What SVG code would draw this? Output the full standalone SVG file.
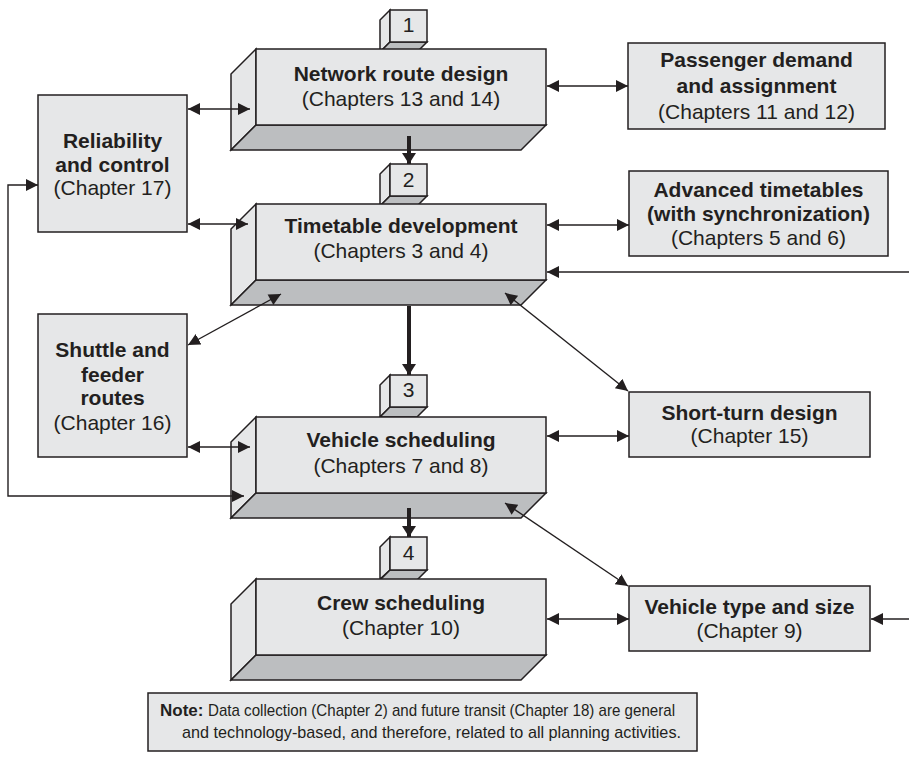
<svg xmlns="http://www.w3.org/2000/svg" width="909" height="759" viewBox="0 0 909 759">
  <style>
    .face { fill: #e6e7e8; stroke: #231f20; stroke-width: 1.5; stroke-linejoin: miter; }
    .shade { fill: #bcbec0; stroke: #231f20; stroke-width: 1.5; }
    .box { fill: #e6e7e8; stroke: #231f20; stroke-width: 1.5; }
    .t { font-family: "Liberation Sans", Arial, sans-serif; font-size: 21px; fill: #231f20; text-anchor: middle; }
    .b { font-weight: bold; }
    .num { font-family: "Liberation Sans", Arial, sans-serif; font-size: 21px; fill: #231f20; text-anchor: middle; }
    .note { font-family: "Liberation Sans", Arial, sans-serif; font-size: 17px; fill: #231f20; }
    .link { fill: none; stroke: #231f20; stroke-width: 1.4; marker-end: url(#head); }
    .dbl { marker-start: url(#headStart); }
    .flow { fill: none; stroke: #231f20; stroke-width: 4; marker-end: url(#bighead); }
  </style>
  <defs>
    <marker id="head" markerUnits="userSpaceOnUse" markerWidth="14" markerHeight="14" refX="12" refY="6" orient="auto">
      <path d="M0,0 L12,6 L0,12 z" fill="#231f20"/>
    </marker>
    <marker id="headStart" markerUnits="userSpaceOnUse" markerWidth="14" markerHeight="14" refX="0" refY="6" orient="auto">
      <path d="M12,0 L0,6 L12,12 z" fill="#231f20"/>
    </marker>
    <marker id="bighead" markerUnits="userSpaceOnUse" markerWidth="16" markerHeight="16" refX="11" refY="7" orient="auto">
      <path d="M0,0 L11,7 L0,14 z" fill="#231f20"/>
    </marker>
  </defs>

  <!-- step 1 -->
  <g id="step1">
    <polygon class="face" points="390,10 380,20 380,52 390,42"/>
    <polygon class="shade" points="390,42 427,42 417,52 380,52"/>
    <rect class="face" x="390" y="10" width="37" height="32"/>
    <text class="num" x="408.5" y="32">1</text>
  </g>
  <g id="network-route-design">
    <polygon class="face" points="256,49 231,74 231,150 256,125"/>
    <polygon class="shade" points="256,125 546,125 521,150 231,150"/>
    <rect class="face" x="256" y="49" width="290" height="76"/>
    <text class="t b" x="401" y="81">Network route design</text>
    <text class="t" x="401" y="106">(Chapters 13 and 14)</text>
  </g>

  <!-- step 2 -->
  <g id="step2">
    <polygon class="face" points="390,164 380,174 380,206 390,196"/>
    <polygon class="shade" points="390,196 427,196 417,206 380,206"/>
    <rect class="face" x="390" y="164" width="37" height="32"/>
    <text class="num" x="408.5" y="187">2</text>
  </g>
  <g id="timetable-development">
    <polygon class="face" points="256,204 231,229 231,305 256,280"/>
    <polygon class="shade" points="256,280 546,280 521,305 231,305"/>
    <rect class="face" x="256" y="204" width="290" height="76"/>
    <text class="t b" x="401" y="233">Timetable development</text>
    <text class="t" x="401" y="258">(Chapters 3 and 4)</text>
  </g>

  <!-- step 3 -->
  <g id="step3">
    <polygon class="face" points="390,375 380,385 380,417 390,407"/>
    <polygon class="shade" points="390,407 427,407 417,417 380,417"/>
    <rect class="face" x="390" y="375" width="37" height="32"/>
    <text class="num" x="408.5" y="397">3</text>
  </g>
  <g id="vehicle-scheduling">
    <polygon class="face" points="256,417 231,442 231,518 256,493"/>
    <polygon class="shade" points="256,493 546,493 521,518 231,518"/>
    <rect class="face" x="256" y="417" width="290" height="76"/>
    <text class="t b" x="401" y="447">Vehicle scheduling</text>
    <text class="t" x="401" y="473">(Chapters 7 and 8)</text>
  </g>

  <!-- step 4 -->
  <g id="step4">
    <polygon class="face" points="390,537 380,547 380,579 390,570"/>
    <polygon class="shade" points="390,570 427,570 417,580 380,580"/>
    <rect class="face" x="390" y="537" width="37" height="33"/>
    <text class="num" x="408.5" y="560">4</text>
  </g>
  <g id="crew-scheduling">
    <polygon class="face" points="256,579 231,604 231,680 256,655"/>
    <polygon class="shade" points="256,655 546,655 521,680 231,680"/>
    <rect class="face" x="256" y="579" width="290" height="76"/>
    <text class="t b" x="401" y="610">Crew scheduling</text>
    <text class="t" x="401" y="635">(Chapter 10)</text>
  </g>

  <!-- side activities -->
  <g id="reliability-control">
    <rect class="box" x="38" y="95" width="149" height="137"/>
    <text class="t b" x="112.5" y="148">Reliability</text>
    <text class="t b" x="112.5" y="172">and control</text>
    <text class="t" x="112.5" y="195">(Chapter 17)</text>
  </g>
  <g id="shuttle-feeder">
    <rect class="box" x="38" y="314" width="149" height="143"/>
    <text class="t b" x="112.5" y="357">Shuttle and</text>
    <text class="t b" x="112.5" y="382">feeder</text>
    <text class="t b" x="112.5" y="405">routes</text>
    <text class="t" x="112.5" y="430">(Chapter 16)</text>
  </g>
  <g id="passenger-demand">
    <rect class="box" x="628" y="43" width="257" height="86"/>
    <text class="t b" x="756.5" y="67">Passenger demand</text>
    <text class="t b" x="756.5" y="93">and assignment</text>
    <text class="t" x="756.5" y="119">(Chapters 11 and 12)</text>
  </g>
  <g id="advanced-timetables">
    <rect class="box" x="629" y="171" width="259" height="85"/>
    <text class="t b" x="758.5" y="197">Advanced timetables</text>
    <text class="t b" x="758.5" y="221">(with synchronization)</text>
    <text class="t" x="758.5" y="245">(Chapters 5 and 6)</text>
  </g>
  <g id="short-turn">
    <rect class="box" x="629" y="392" width="241" height="65"/>
    <text class="t b" x="749.5" y="420">Short-turn design</text>
    <text class="t" x="749.5" y="443">(Chapter 15)</text>
  </g>
  <g id="vehicle-type">
    <rect class="box" x="629" y="586" width="241" height="65"/>
    <text class="t b" x="749.5" y="614">Vehicle type and size</text>
    <text class="t" x="749.5" y="638">(Chapter 9)</text>
  </g>

  <!-- note -->
  <g id="note">
    <rect class="box" x="148" y="693" width="549" height="58"/>
    <text class="note b" x="160" y="716">Note:</text>
    <text class="note" x="208" y="716" textLength="467" lengthAdjust="spacingAndGlyphs">Data collection (Chapter 2) and future transit (Chapter 18) are general</text>
    <text class="note" x="182" y="738" textLength="499" lengthAdjust="spacingAndGlyphs">and technology-based, and therefore, related to all planning activities.</text>
  </g>

  <!-- connectors, drawn over the blocks so the arrowheads stay visible -->
  <g id="connectors">
    <!-- main sequence -->
    <line class="flow" x1="409" y1="136" x2="409" y2="164"/>
    <line class="flow" x1="409" y1="306" x2="409" y2="375"/>
    <line class="flow" x1="409" y1="508" x2="409" y2="537"/>
    <!-- reliability links -->
    <line class="link dbl" x1="188" y1="109" x2="250" y2="109"/>
    <line class="link dbl" x1="188" y1="224" x2="248" y2="224"/>
    <!-- feedback loop between vehicle scheduling and reliability -->
    <polyline class="link dbl" points="244,496 8,496 8,185 38,185"/>
    <!-- right side links -->
    <line class="link dbl" x1="547" y1="86" x2="628" y2="86"/>
    <line class="link dbl" x1="547" y1="225" x2="629" y2="225"/>
    <line class="link" x1="909" y1="272" x2="547" y2="272"/>
    <line class="link dbl" x1="281" y1="294" x2="188" y2="345"/>
    <line class="link dbl" x1="505" y1="293" x2="628" y2="391"/>
    <line class="link dbl" x1="188" y1="447" x2="250" y2="447"/>
    <line class="link dbl" x1="547" y1="436" x2="629" y2="436"/>
    <line class="link dbl" x1="505" y1="503" x2="628" y2="586"/>
    <line class="link dbl" x1="547" y1="619" x2="629" y2="619"/>
    <line class="link" x1="909" y1="619" x2="871" y2="619"/>
  </g>
</svg>
